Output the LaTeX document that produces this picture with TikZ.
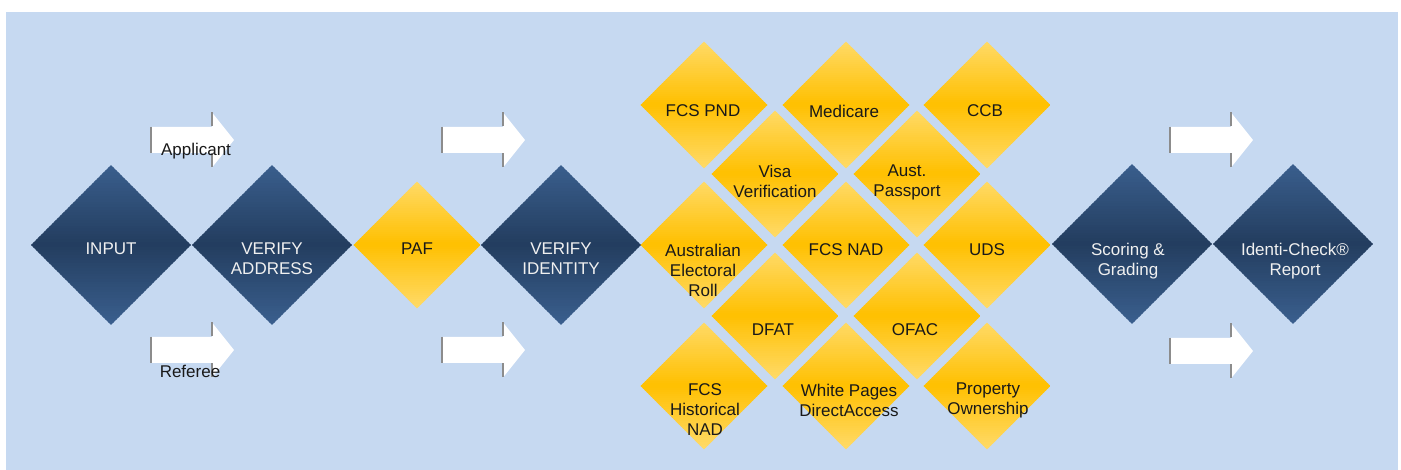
\documentclass[tikz,border=0pt]{standalone}
\usepackage{fontspec}
\setmainfont{Liberation Sans}
\usetikzlibrary{shapes.geometric,calc}
\definecolor{panel}{HTML}{C6D9F1}
\definecolor{navyedge}{HTML}{3A5F8E}
\definecolor{navymid}{HTML}{233D5F}
\definecolor{goldedge}{HTML}{FFDA68}
\definecolor{goldmid}{HTML}{FFC000}
\definecolor{arrowrim}{HTML}{8C8C8C}
% vertical gradient: edge colour at top and bottom, centre colour in the middle
\newcommand\stripfill[2]{%
  \foreach \i in {0,...,59}{%
    \pgfmathsetmacro\p{100*(1-abs(2*(\i+0.5)/60-1))}%
    \fill[#2!\p!#1]
      ($(path picture bounding box.north west)!{\i/60}!(path picture bounding box.south west)+(-1,-0.6)$)
      rectangle
      ($(path picture bounding box.north east)!{(\i+1)/60}!(path picture bounding box.south east)+(1,0.6)$);
  }}
\begin{document}
\begin{tikzpicture}[x=1pt,y=-1pt,
  bigstep/.style={shape=diamond,draw=none,inner sep=0pt,minimum width=160pt,minimum height=160pt,
    path picture={\stripfill{navyedge}{navymid}}},
  source/.style={shape=diamond,draw=none,inner sep=0pt,minimum width=127pt,minimum height=127pt,
    path picture={\stripfill{goldedge}{goldmid}}},
  wtext/.style={text=white!94!black,font=\fontsize{17}{20}\selectfont,align=center,inner sep=0pt},
  btext/.style={text=black!90,font=\fontsize{17}{20}\selectfont,align=center,inner sep=0pt},
  blockarrow/.pic={
    \fill[white] (0,-13) -- (60,-13) -- (60,-27.5) -- (82,0) -- (60,27.5) -- (60,13) -- (0,13) -- cycle;
    \draw[arrowrim,line width=1.6pt] (-0.8,-13) -- (-0.8,13);
    \draw[arrowrim,line width=1.6pt] (60,-27.5) -- (60,-13.5) (60,13.5) -- (60,27.5);
  }]
\useasboundingbox (0,0) rectangle (1401,470);
\fill[panel] (6,12) rectangle (1398,470);

% main process chain
\node[bigstep] (input)   at (111,245) {};
\node[bigstep] (vaddr)   at (272,245) {};
\node[source]  (paf)     at (417,245) {};
\node[bigstep] (vid)     at (561,245) {};
\node[bigstep] (score)   at (1132,244) {};
\node[bigstep] (report)  at (1293,244) {};

% data sources grid
\node[source] (fcspnd)   at (704,105) {};
\node[source] (medicare) at (846,105) {};
\node[source] (ccb)      at (987,105) {};
\node[source] (visa)     at (775,174) {};
\node[source] (passport) at (917,174) {};
\node[source] (aec)      at (704,245) {};
\node[source] (fcsnad)   at (846,245) {};
\node[source] (uds)      at (987,245) {};
\node[source] (dfat)     at (775,316) {};
\node[source] (ofac)     at (917,316) {};
\node[source] (fcshist)  at (704,386) {};
\node[source] (wpages)   at (846,386) {};
\node[source] (property) at (987,386) {};

% labels
\node[wtext] (input-t)  at (111,249) {INPUT};
\node[wtext] (vaddr-t)  at (272,259) {VERIFY\\ADDRESS};
\node[btext] (paf-t)    at (417,249) {PAF};
\node[wtext] (vid-t)    at (561,259) {VERIFY\\IDENTITY};
\node[wtext] (score-t)  at (1128,261) {Scoring \&\\Grading};
\node[wtext] (report-t) at (1295,261) {Identi-Check®\\Report};

\node[btext] (fcspnd-t)   at (703,111) {FCS PND};
\node[btext] (medicare-t) at (844,111) {Medicare};
\node[btext] (ccb-t)      at (985,111) {CCB};
\node[btext] (visa-t)     at (775,181) {Visa\\Verification};
\node[btext] (passport-t) at (907,182) {Aust.\\Passport};
\node[btext] (aec-t)      at (703,270) {Australian\\Electoral\\Roll};
\node[btext] (fcsnad-t)   at (846,250) {FCS NAD};
\node[btext] (uds-t)      at (987,250) {UDS};
\node[btext] (dfat-t)     at (773,330) {DFAT};
\node[btext] (ofac-t)     at (915,330) {OFAC};
\node[btext] (fcshist-t)  at (705,410) {FCS\\Historical\\NAD};
\node[btext] (wpages-t)   at (849,400) {White Pages\\DirectAccess};
\node[btext] (property-t) at (988,400) {Property\\Ownership};

% flow arrows
\pic at (152,140) {blockarrow};
\pic at (152,350) {blockarrow};
\pic at (443,140) {blockarrow};
\pic at (443,350) {blockarrow};
\pic at (1171,140) {blockarrow};
\pic at (1171,351) {blockarrow};

\node[btext] (applicant) at (196,151) {Applicant};
\node[btext] (referee)   at (190,371) {Referee};
\end{tikzpicture}
\end{document}
